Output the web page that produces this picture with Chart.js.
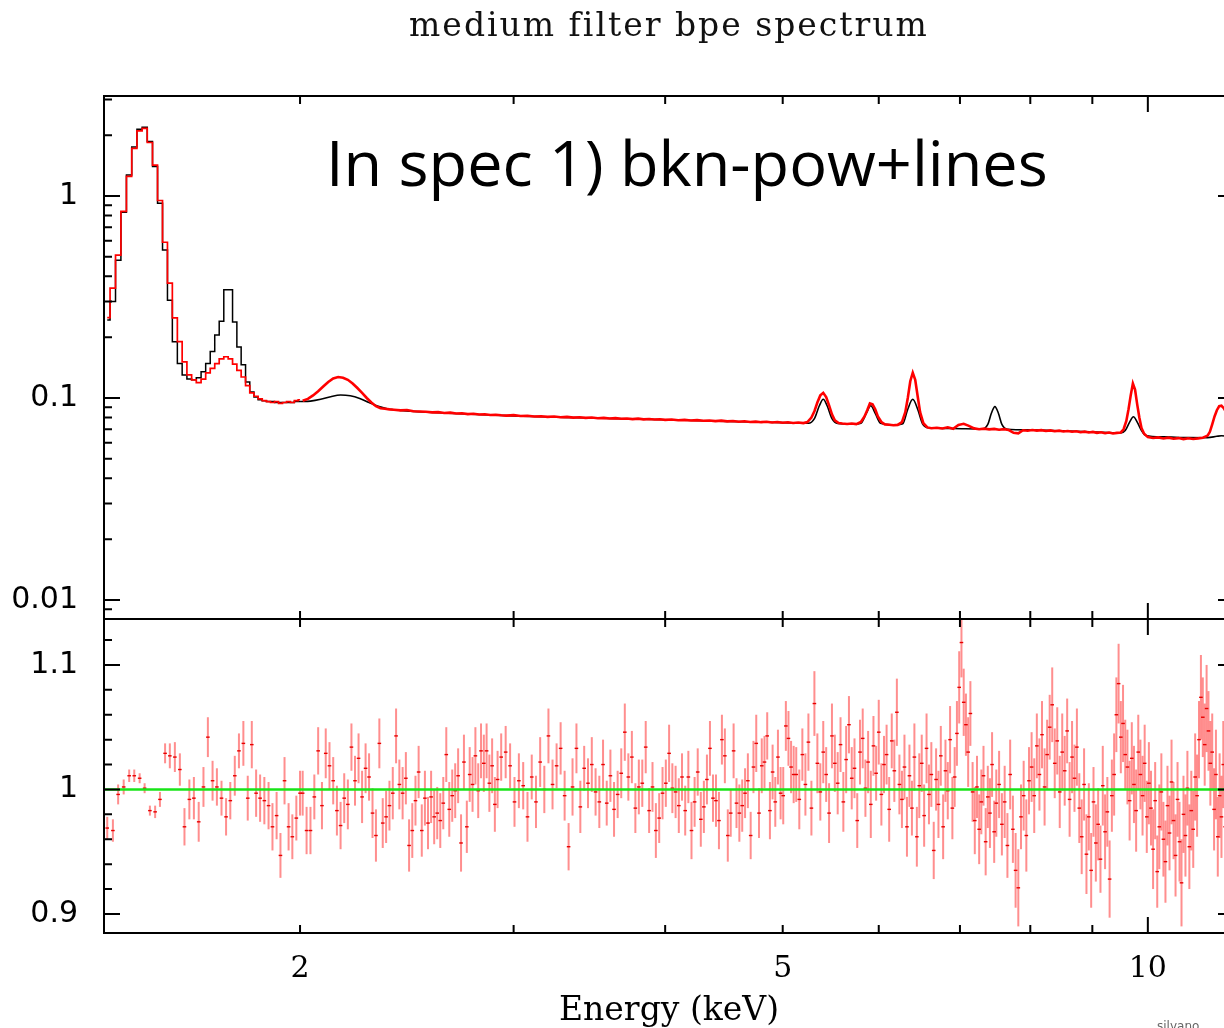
<!DOCTYPE html>
<html>
<head>
<meta charset="utf-8">
<title>medium filter bpe spectrum</title>
<script src="https://cdn.jsdelivr.net/npm/chart.js@4.4.1/dist/chart.umd.min.js"></script>
<style>
  html, body { margin: 0; padding: 0; background: #fff; }
  body { width: 1224px; height: 1028px; overflow: hidden; position: relative; }
  #topBox { position: absolute; left: 0; top: 0; }
  #botBox { position: absolute; left: 0; top: 600px; }
  .title { position: absolute; left: 104px; width: 1130px; top: 8px; text-align: center;
           font: 33px/33px "DejaVu Serif", serif; letter-spacing: 2px; color: #111; white-space: nowrap; }
  .note { position: absolute; left: 326px; top: 130px; font: 63px/63px "Open Sans", sans-serif;
          color: #000; white-space: nowrap; }
  .sig { position: absolute; left: 1157px; top: 1019px; font: 12px/14px "DejaVu Sans", sans-serif; color: #666; }
</style>
</head>
<body>
<canvas id="topBox" width="1250" height="640"></canvas>
<canvas id="botBox" width="1250" height="433"></canvas>
<div class="title">medium filter bpe spectrum</div>
<div class="note">In spec 1) bkn-pow+lines</div>
<div class="sig">silvano</div>
<script>
// axis ticks / labels
const xTickLabels = [2, 5, 10];
const xMajorTicks = [10];
const xMinorTicks = [2, 3, 4, 5, 6, 7, 8, 9];
const yTopLabels = [0.01, 0.1, 1];
const yTopMinor = [0.009, 0.02, 0.03, 0.04, 0.05, 0.06, 0.07, 0.08, 0.09, 0.2, 0.3, 0.4, 0.5, 0.6, 0.7, 0.8, 0.9, 2, 3];
const yBotLabels = [0.9, 1, 1.1];
const yBotMinor = [0.92, 0.94, 0.96, 0.98, 1.02, 1.04, 1.06, 1.08, 1.12];

// low energy channels (histogram part, keV)
const binE = [1.387, 1.402, 1.416, 1.431, 1.446, 1.460, 1.475, 1.489, 1.504, 1.519,
  1.533, 1.548, 1.562, 1.577, 1.592, 1.606, 1.621, 1.635, 1.650, 1.665,
  1.679, 1.694, 1.708, 1.723, 1.738, 1.752, 1.767, 1.781, 1.796, 1.811,
  1.825, 1.840, 1.854, 1.869, 1.884, 1.898, 1.913, 1.927, 1.942, 1.957,
  1.971, 1.986, 2.000];
const binModel = [0.243, 0.300, 0.480, 0.830, 1.270, 1.750, 2.140, 2.190, 1.860, 1.400,
  0.920, 0.540, 0.305, 0.190, 0.148, 0.130, 0.124, 0.123, 0.126, 0.135,
  0.148, 0.170, 0.205, 0.240, 0.343, 0.343, 0.238, 0.179, 0.146, 0.120,
  0.107, 0.101, 0.098, 0.097, 0.096, 0.096, 0.095, 0.095, 0.095, 0.095,
  0.095, 0.096, 0.096];
const binData = [0.250, 0.350, 0.510, 0.840, 1.250, 1.720, 2.100, 2.160, 1.840, 1.420,
  0.950, 0.590, 0.370, 0.249, 0.190, 0.151, 0.130, 0.123, 0.119, 0.124,
  0.133, 0.140, 0.148, 0.156, 0.160, 0.156, 0.147, 0.137, 0.127, 0.115,
  0.106, 0.102, 0.099, 0.097, 0.096, 0.095, 0.096, 0.094, 0.095, 0.096,
  0.095, 0.097, 0.098];

// model above 2 keV
const modelE = [2.00, 2.04, 2.08, 2.12, 2.16, 2.20, 2.24, 2.28, 2.32, 2.36, 2.42, 2.50, 2.65, 2.80,
  3.00, 3.30, 3.60, 4.00, 4.50, 5.00, 5.25, 5.31, 5.36, 5.40, 5.44, 5.49, 5.55, 5.72, 5.80,
  5.86, 5.91, 5.96, 6.02, 6.20, 6.28, 6.34, 6.40, 6.46, 6.52, 6.60, 6.90, 7.30, 7.38, 7.43,
  7.48, 7.53, 7.58, 7.66, 8.00, 8.50, 9.00, 9.50, 9.58, 9.66, 9.73, 9.80, 9.88, 9.96, 10.3,
  10.8, 11.2, 11.4, 11.5, 11.6, 11.8];
const modelV = [0.0960, 0.0965, 0.0985, 0.1015, 0.1034, 0.1025, 0.0995, 0.0950, 0.0910, 0.0885, 0.0868, 0.0856, 0.0840, 0.0828,
  0.0815, 0.0802, 0.0792, 0.0780, 0.0766, 0.0755, 0.0750, 0.0790, 0.0915, 0.0985, 0.0915, 0.0790, 0.0748, 0.0742, 0.0750,
  0.0840, 0.0915, 0.0840, 0.0750, 0.0736, 0.0745, 0.0880, 0.0985, 0.0880, 0.0745, 0.0712, 0.0706, 0.0702, 0.0740, 0.0840,
  0.0906, 0.0840, 0.0740, 0.0700, 0.0695, 0.0688, 0.0680, 0.0672, 0.0690, 0.0760, 0.0807, 0.0760, 0.0690, 0.0652, 0.0642,
  0.0637, 0.0636, 0.0646, 0.0650, 0.0648, 0.0642];

// data above 2 keV
const dataE = [2.01, 2.03, 2.05, 2.07, 2.09, 2.11, 2.13, 2.15, 2.17, 2.19, 2.21, 2.23, 2.25, 2.27, 2.29, 2.31, 2.33, 2.35, 2.37, 2.39,
  2.42, 2.45, 2.48, 2.51, 2.54, 2.57, 2.60, 2.63, 2.66, 2.69, 2.72, 2.75, 2.78, 2.81, 2.84, 2.87, 2.90, 2.93, 2.96,
  3.00, 3.04, 3.08, 3.12, 3.16, 3.20, 3.24, 3.28, 3.32, 3.36, 3.40, 3.44, 3.48, 3.52, 3.56, 3.60, 3.64, 3.68, 3.72, 3.76, 3.80, 3.84, 3.88, 3.92, 3.96, 4.00,
  4.05, 4.10, 4.15, 4.20, 4.25, 4.30, 4.35, 4.40, 4.45, 4.50, 4.55, 4.60, 4.65, 4.70, 4.75, 4.80, 4.85, 4.90, 4.95, 5.00, 5.05, 5.10, 5.15, 5.20,
  5.24, 5.28, 5.31, 5.34, 5.37, 5.40, 5.43, 5.46, 5.49, 5.52, 5.56, 5.60, 5.65, 5.70, 5.75, 5.80, 5.84, 5.87, 5.90, 5.93, 5.96, 5.99, 6.03, 6.07, 6.12, 6.17, 6.22,
  6.27, 6.31, 6.34, 6.37, 6.40, 6.43, 6.46, 6.49, 6.53, 6.58, 6.63,
  6.70, 6.77, 6.84, 6.91, 6.98, 7.05, 7.12, 7.19, 7.26, 7.33, 7.40, 7.47, 7.54, 7.61, 7.68, 7.75, 7.82, 7.89, 7.96, 8.03, 8.10,
  8.17, 8.24, 8.31, 8.38, 8.45, 8.52, 8.59, 8.66, 8.73, 8.80, 8.87, 8.94, 9.01, 9.08, 9.15, 9.22, 9.29, 9.36, 9.43, 9.50,
  9.55, 9.60, 9.64, 9.68, 9.72, 9.76, 9.80, 9.84, 9.88, 9.93,
  10.0, 10.1, 10.2, 10.3, 10.4, 10.5, 10.6, 10.7, 10.8, 10.9, 11.0, 11.1, 11.2, 11.25, 11.3, 11.35, 11.4, 11.45, 11.5, 11.55, 11.6, 11.7, 11.8];
const dataV = [0.097, 0.099, 0.103, 0.108, 0.114, 0.120, 0.125, 0.127, 0.126, 0.123, 0.118, 0.112, 0.106, 0.100, 0.095, 0.091, 0.089, 0.0885, 0.0878, 0.0875,
  0.0868, 0.0872, 0.0860, 0.0857, 0.0855, 0.0849, 0.0851, 0.0843, 0.0846, 0.0838, 0.0840, 0.0832, 0.0836, 0.0829, 0.0831, 0.0823, 0.0826, 0.0821, 0.0818,
  0.0822, 0.0814, 0.0817, 0.0810, 0.0812, 0.0806, 0.0809, 0.0803, 0.0806, 0.0799, 0.0803, 0.0797, 0.0800, 0.0794, 0.0797, 0.0791, 0.0795, 0.0789, 0.0792, 0.0786, 0.0790, 0.0784, 0.0787, 0.0782, 0.0785, 0.0779,
  0.0783, 0.0776, 0.0779, 0.0773, 0.0777, 0.0771, 0.0774, 0.0768, 0.0772, 0.0766, 0.0769, 0.0763, 0.0767, 0.0761, 0.0764, 0.0759, 0.0762, 0.0756, 0.0760, 0.0754, 0.0758, 0.0752, 0.0756, 0.0751,
  0.0760, 0.0800, 0.0860, 0.0950, 0.1030, 0.1060, 0.1010, 0.0920, 0.0830, 0.0775, 0.0752, 0.0748, 0.0744, 0.0748, 0.0742, 0.0760, 0.0810, 0.0870, 0.0940, 0.0930, 0.0880, 0.0810, 0.0760, 0.0740, 0.0737, 0.0733, 0.0736,
  0.0760, 0.0850, 0.1000, 0.1210, 0.1334, 0.1230, 0.1020, 0.0850, 0.0750, 0.0715, 0.0708,
  0.0712, 0.0706, 0.0716, 0.0704, 0.0735, 0.0745, 0.0728, 0.0707, 0.0700, 0.0705, 0.0699, 0.0703, 0.0696, 0.0701, 0.0694, 0.0672, 0.0668, 0.0692, 0.0688, 0.0694, 0.0689,
  0.0693, 0.0686, 0.0691, 0.0684, 0.0689, 0.0682, 0.0686, 0.0680, 0.0684, 0.0677, 0.0681, 0.0675, 0.0679, 0.0672, 0.0676, 0.0669, 0.0674, 0.0667, 0.0672, 0.0675,
  0.0700, 0.0770, 0.0880, 0.1030, 0.1180, 0.1100, 0.0930, 0.0800, 0.0710, 0.0665,
  0.0640, 0.0634, 0.0638, 0.0630, 0.0636, 0.0628, 0.0633, 0.0626, 0.0632, 0.0627, 0.0631, 0.0636, 0.0650, 0.0680, 0.0740, 0.0810, 0.0870, 0.0910, 0.0915, 0.0890, 0.0850, 0.0760, 0.0690];

// ratio panel
const resE = [...binE,
  2.010, 2.025, 2.040, 2.055, 2.070, 2.085, 2.100, 2.115, 2.130, 2.145,
  2.160, 2.175, 2.190, 2.205, 2.220, 2.235, 2.250, 2.265, 2.280, 2.295,
  2.310, 2.325, 2.340, 2.355, 2.370, 2.385, 2.400, 2.415, 2.430, 2.445,
  2.460, 2.475, 2.490, 2.505, 2.520, 2.535, 2.550, 2.565, 2.580, 2.595,
  2.610, 2.625, 2.640, 2.655, 2.670, 2.685, 2.700, 2.715, 2.730, 2.745,
  2.760, 2.775, 2.790, 2.805, 2.820, 2.835, 2.850, 2.865, 2.880, 2.895,
  2.910,
  2.930, 2.955, 2.980, 3.005, 3.030, 3.055, 3.080, 3.105, 3.130, 3.155,
  3.180, 3.205, 3.230, 3.255, 3.280, 3.305, 3.330, 3.355, 3.380, 3.405,
  3.430, 3.455, 3.480, 3.505, 3.530, 3.555, 3.580, 3.605, 3.630, 3.655,
  3.680, 3.705, 3.730, 3.755, 3.780, 3.805, 3.830, 3.855, 3.880, 3.905,
  3.930, 3.955, 3.980, 4.005, 4.030, 4.055, 4.080, 4.105, 4.130, 4.155,
  4.180, 4.205, 4.230, 4.255, 4.280, 4.305, 4.330, 4.355, 4.380, 4.405,
  4.430, 4.455, 4.480, 4.505, 4.530, 4.555, 4.580, 4.605, 4.630, 4.655,
  4.680, 4.705, 4.730, 4.755, 4.780, 4.805, 4.830, 4.855, 4.880, 4.905,
  4.930, 4.955, 4.980, 5.005, 5.030, 5.055, 5.080, 5.105,
  5.13, 5.16, 5.19, 5.22, 5.25, 5.28, 5.31, 5.34, 5.37, 5.40,
  5.43, 5.46, 5.49, 5.52, 5.55, 5.58, 5.61, 5.64, 5.67, 5.70,
  5.73, 5.76, 5.79, 5.82, 5.85, 5.88, 5.91, 5.94, 5.97, 6.00,
  6.03, 6.06, 6.09, 6.12, 6.15, 6.18, 6.21, 6.24, 6.27, 6.30,
  6.33, 6.36, 6.39, 6.42, 6.45, 6.48, 6.51, 6.54, 6.57, 6.60,
  6.63, 6.66, 6.69, 6.72, 6.75, 6.78, 6.81, 6.84, 6.87, 6.90,
  6.93, 6.96, 6.99, 7.02, 7.05, 7.08, 7.11, 7.14, 7.17, 7.20,
  7.23, 7.26, 7.29, 7.32, 7.35, 7.38, 7.41, 7.44, 7.47, 7.50,
  7.54, 7.58, 7.62, 7.66, 7.70, 7.74, 7.78, 7.82, 7.86, 7.90,
  7.94, 7.98, 8.02, 8.06, 8.10, 8.14, 8.18, 8.22, 8.26, 8.30,
  8.34, 8.38, 8.42, 8.46, 8.50, 8.54, 8.58, 8.62, 8.66, 8.70,
  8.74, 8.78, 8.82, 8.86, 8.90, 8.94, 8.98, 9.02, 9.06, 9.10,
  9.14, 9.18, 9.22, 9.26, 9.30, 9.34, 9.38, 9.42, 9.46, 9.50,
  9.54, 9.58, 9.62, 9.66, 9.70, 9.74, 9.78, 9.82, 9.86, 9.90,
  9.94, 9.98, 10.02, 10.06, 10.10, 10.14, 10.18, 10.22, 10.26, 10.30,
  10.34, 10.38, 10.42, 10.46, 10.50, 10.54, 10.58, 10.62, 10.66, 10.70,
  10.74, 10.78, 10.82, 10.86, 10.90, 10.94, 10.98, 11.02, 11.06, 11.10,
  11.14, 11.18, 11.22, 11.26, 11.30, 11.34, 11.38, 11.42, 11.46, 11.50,
  11.54, 11.58, 11.62];
const resRatio = [
  0.969, 0.967, 0.996, 1.002, 1.011, 1.011, 1.009, 1.001, 0.983, 0.982,
  0.992, 1.029, 1.027, 1.026, 1.016, 0.970, 0.992, 0.993, 0.974, 1.002,
  1.042, 1.007, 1.002, 0.993, 0.978, 0.991, 1.011, 1.031, 1.037, 0.993,
  1.036, 0.997, 0.993, 0.991, 0.987, 0.970, 0.979, 0.947, 1.007, 0.970,
  0.962, 0.977, 0.997,
  0.997, 0.967, 0.967, 0.994, 1.031, 0.987, 1.029, 1.019, 1.007, 0.983,
  0.971, 0.993, 0.988, 1.034, 1.007, 1.025, 0.994, 1.017, 1.010, 0.981,
  0.963, 1.037, 0.973, 0.978, 0.987, 0.997, 1.043, 1.004, 0.997, 1.009,
  0.955, 0.967, 0.991, 1.014, 0.967, 0.993, 0.973, 0.994, 0.978, 0.981,
  0.975, 0.989, 1.028, 0.984, 0.995, 0.999, 1.011, 0.957, 1.022, 0.970,
  1.012, 1.004, 1.027, 0.999, 1.031, 1.021, 1.031, 1.005, 1.019, 0.988,
  1.008,
  1.026, 1.030, 1.019, 0.990, 1.007, 1.003, 0.978, 1.010, 0.990, 1.022,
  1.000, 1.043, 1.004, 1.019, 1.033, 0.995, 0.954, 1.002, 1.033, 0.986,
  1.017, 1.005, 1.020, 0.998, 0.990, 1.020, 0.989, 1.011, 0.984, 0.996,
  1.013, 1.046, 1.010, 1.026, 0.985, 1.002, 1.005, 1.034, 0.983, 1.002,
  0.967, 0.977, 0.997, 1.005, 1.029, 1.001, 0.998, 0.987, 1.010, 0.983,
  1.010, 0.967, 0.990, 1.014, 0.976, 0.986, 1.008, 1.033, 0.993, 0.991,
  0.975, 1.040, 1.027, 0.963, 0.981, 1.031, 0.989, 0.981, 0.987, 0.997,
  1.007, 0.963, 1.018, 1.037, 0.981, 1.019, 1.022, 1.043, 0.983, 1.014,
  0.990, 1.026, 0.997, 0.995, 1.051, 1.041, 1.018, 1.012,
  1.012, 0.992, 1.028, 1.004, 1.038, 0.985, 1.069, 1.021, 0.998, 1.030,
  1.012, 0.981, 1.043, 1.021, 1.005, 1.036, 0.990, 1.024, 1.052, 1.009,
  1.017, 0.975, 1.030, 1.041, 1.001, 1.022, 0.988, 1.035, 1.013, 1.046,
  0.996, 1.020, 1.028, 0.984, 1.039, 1.015, 1.062, 1.004, 0.992, 1.018,
  0.970, 1.011, 0.985, 1.026, 0.962, 1.003, 1.021, 0.979, 1.033, 0.996,
  1.012, 0.951, 1.008, 0.988, 1.027, 0.970, 1.015, 0.999, 1.040, 0.985,
  1.010, 1.045, 1.082, 1.118, 1.070, 1.052, 1.030, 1.061, 0.998, 0.975,
  1.002, 0.968, 0.990, 1.011, 0.958, 0.994, 0.981, 1.020, 0.966, 0.989,
  1.004, 0.972, 0.990, 0.955, 1.012, 0.968, 0.935, 0.921, 0.978, 0.995,
  0.963, 1.007, 1.018, 0.995, 1.035, 1.012, 1.044, 1.002, 1.028, 1.050,
  1.068, 1.021, 1.039, 0.998, 1.030, 1.015, 1.047, 0.992, 1.026, 1.009,
  1.034, 0.985, 0.962, 1.004, 0.948, 0.978, 0.935, 0.990, 0.957, 0.972,
  0.944, 1.003, 0.966, 0.982, 0.928, 0.995, 1.012, 1.060, 1.085, 1.042,
  1.053, 1.028, 1.018, 0.991, 1.025, 1.004, 0.983, 1.030, 1.012, 0.995,
  1.021, 0.978, 1.005, 0.985, 0.952, 0.991, 0.934, 0.970, 0.998, 0.960,
  0.942, 0.987, 0.965, 1.006, 0.975, 0.947, 0.992, 0.958, 0.925, 0.980,
  0.963, 1.001, 0.954, 0.983, 0.968, 1.010, 0.995, 1.040, 1.074, 1.058,
  1.036, 1.065, 1.047, 1.021, 1.030, 0.984, 1.012, 0.962, 0.995, 0.978,
  1.020, 0.970, 1.003];
const resErr = [
  .009, .009, .008, .006, .005, .005, .004, .004, .004, .005,
  .006, .008, .010, .012, .013, .015, .016, .017, .016, .016,
  .016, .016, .015, .014, .015, .015, .016, .014, .018, .018,
  .019, .019, .019, .019, .019, .019, .019, .018, .019, .019,
  .018, .018, .018,
  .018, .019, .019, .018, .019, .019, .020, .019, .019, .020,
  .019, .020, .020, .019, .020, .020, .021, .020, .019, .020,
  .021, .020, .020, .021, .020, .021, .022, .020, .021, .021,
  .021, .022, .020, .021, .021, .022, .021, .021, .022, .021,
  .022, .021, .022, .022, .021, .022, .022, .023, .022, .021,
  .022, .022, .023, .022, .022, .023, .022, .023, .022, .022,
  .023,
  .019, .021, .018, .020, .022, .019, .020, .018, .021, .020,
  .019, .022, .020, .018, .021, .020, .019, .023, .020, .021,
  .018, .020, .022, .019, .021, .020, .018, .021, .022, .019,
  .020, .023, .019, .021, .020, .022, .019, .021, .018, .020,
  .022, .020, .021, .019, .023, .020, .021, .022, .019, .020,
  .021, .023, .020, .019, .022, .021, .020, .022, .019, .021,
  .023, .020, .022, .021, .019, .022, .020, .023, .021, .020,
  .022, .019, .021, .023, .020, .022, .021, .019, .023, .022,
  .020, .022, .021, .023, .020, .022, .021, .023,
  .022, .024, .021, .025, .023, .022, .026, .024, .023, .025,
  .022, .024, .026, .023, .025, .022, .024, .027, .023, .025,
  .024, .022, .026, .024, .023, .025, .027, .024, .022, .026,
  .025, .023, .024, .026, .022, .025, .027, .024, .023, .026,
  .024, .025, .022, .027, .024, .026, .023, .025, .028, .024,
  .026, .023, .025, .027, .024, .026, .025, .023, .027, .025,
  .024, .026, .029, .028, .027, .025, .028, .026, .024, .027,
  .025, .028, .026, .024, .027, .025, .028, .026, .025, .027,
  .027, .025, .029, .026, .028, .027, .030, .031, .026, .028,
  .029, .027, .028, .030, .026, .029, .027, .031, .028, .026,
  .030, .028, .027, .029, .031, .028, .026, .030, .029, .027,
  .031, .028, .030, .029, .032, .027, .030, .028, .031, .029,
  .027, .032, .030, .028, .031, .029, .033, .030, .032, .029,
  .031, .028, .030, .032, .029, .031, .033, .030, .028, .032,
  .031, .029, .033, .030, .032, .031, .029, .034, .031, .030,
  .033, .032, .030, .034, .031, .033, .030, .032, .035, .031,
  .033, .030, .034, .032, .031, .035, .033, .031, .034, .032,
  .033, .035, .032, .034, .031, .033, .036, .032, .034, .033,
  .035, .032, .034];
const unityE = [1.3, 12];
const unityRatio = [1, 1];

[[binE, binModel], [binE, binData], [modelE, modelV], [dataE, dataV], [resE, resRatio], [resE, resErr]]
  .forEach(([a, b], i) => { if (a.length !== b.length) console.error('length mismatch', i, a.length, b.length); });

// axis ranges (pixel layout of the original plot)
const xMin = 1.3785, xMax = 11.777;

const pts = (xs, ys) => xs.map((x, i) => ({ x: x, y: ys[i] }));

// PGPLOT-style frame with inward ticks
const frameTicks = {
  id: 'frameTicks',
  afterDraw(chart, args, opts) {
    const { ctx, chartArea: a } = chart;
    const xs = chart.scales.x, ys = chart.scales.y;
    ctx.save();
    ctx.strokeStyle = '#000';
    ctx.lineWidth = 2;
    ctx.beginPath();
    const xTick = (v, len) => {
      const p = xs.getPixelForValue(v);
      ctx.moveTo(p, a.bottom); ctx.lineTo(p, a.bottom - len);
      ctx.moveTo(p, a.top); ctx.lineTo(p, a.top + len);
    };
    const yTick = (v, len) => {
      const p = ys.getPixelForValue(v);
      ctx.moveTo(a.left, p); ctx.lineTo(a.left + len, p);
      ctx.moveTo(a.right, p); ctx.lineTo(a.right - len, p);
    };
    xMajorTicks.forEach(v => xTick(v, 16));
    xMinorTicks.forEach(v => xTick(v, 8));
    opts.yMajor.forEach(v => yTick(v, 16));
    opts.yMinor.forEach(v => yTick(v, 8));
    ctx.stroke();
    ctx.strokeRect(a.left, a.top, a.right - a.left, a.bottom - a.top);
    ctx.restore();
  }
};

const yLabelFont = { family: 'DejaVu Sans', size: 30 };
const xLabelFont = { family: 'DejaVu Serif', size: 30 };

// fixed axis box, no extra label padding so the plot frame stays where the original has it
const fixWidth = s => { s.width = 104; s.paddingTop = 0; s.paddingBottom = 0; };

// top: counts spectrum
new Chart(document.getElementById('topBox'), {
  type: 'line',
  data: {
    datasets: [
      { data: pts(binE, binData), borderColor: '#ff0000', borderWidth: 1.7, stepped: 'middle', pointRadius: 0 },
      { data: pts(dataE, dataV), borderColor: '#ff0000', borderWidth: 2.6, pointRadius: 0 },
      { data: pts(binE, binModel), borderColor: '#000', borderWidth: 1.5, stepped: 'middle', pointRadius: 0 },
      { data: pts(modelE, modelV), borderColor: '#000', borderWidth: 1.6, pointRadius: 0, cubicInterpolationMode: 'monotone' }
    ]
  },
  options: {
    responsive: false, animation: false, events: [], devicePixelRatio: 1,
    layout: { padding: { top: 96, right: 16, bottom: 21, left: 0 } },
    plugins: {
      legend: { display: false }, tooltip: { enabled: false },
      frameTicks: { yMajor: yTopLabels, yMinor: yTopMinor }
    },
    scales: {
      x: { type: 'logarithmic', min: xMin, max: xMax, display: false },
      y: {
        type: 'logarithmic', min: 0.00805, max: 3.126,
        grid: { display: false, drawTicks: false }, border: { display: false },
        afterFit: fixWidth,
        afterBuildTicks: s => { s.ticks = yTopLabels.map(v => ({ value: v })); },
        ticks: { padding: 26, color: '#000', font: yLabelFont, callback: v => String(v) }
      }
    }
  },
  plugins: [frameTicks]
});

// bottom: data / model ratio with error bars
const barPts = [];
resE.forEach((e, i) => {
  barPts.push({ x: e, y: resRatio[i] - resErr[i] }, { x: e, y: resRatio[i] + resErr[i] }, { x: e, y: null });
});

new Chart(document.getElementById('botBox'), {
  type: 'line',
  data: {
    datasets: [
      { data: pts(unityE, unityRatio), borderColor: '#18e418', borderWidth: 2.5, pointRadius: 0 },
      { data: pts(resE, resRatio), showLine: false, pointStyle: 'line', pointRadius: 1.8,
        pointBorderColor: '#e80000', pointBorderWidth: 1.4 },
      { data: barPts, borderColor: 'rgba(255,30,30,0.5)', borderWidth: 2, pointRadius: 0, spanGaps: false,
        segment: { borderColor: 'rgba(255,30,30,0.5)' } }
    ]
  },
  options: {
    responsive: false, animation: false, events: [], devicePixelRatio: 1,
    layout: { padding: { top: 19, right: 16, bottom: 0, left: 0 } },
    plugins: {
      legend: { display: false }, tooltip: { enabled: false },
      frameTicks: { yMajor: yBotLabels, yMinor: yBotMinor }
    },
    scales: {
      x: {
        type: 'logarithmic', min: xMin, max: xMax,
        grid: { display: false, drawTicks: false }, border: { display: false },
        afterFit: s => { s.height = 100; s.paddingLeft = 0; s.paddingRight = 0; },
        afterBuildTicks: s => { s.ticks = xTickLabels.map(v => ({ value: v })); },
        ticks: { padding: 18, autoSkip: false, maxRotation: 0, color: '#000', font: xLabelFont, callback: v => String(v) },
        title: { display: true, text: 'Energy (keV)', color: '#000', font: { family: 'DejaVu Serif', size: 33 }, padding: { top: 0, bottom: 2 } }
      },
      y: {
        type: 'linear', min: 0.8847, max: 1.1369,
        grid: { display: false, drawTicks: false }, border: { display: false },
        afterFit: fixWidth,
        afterBuildTicks: s => { s.ticks = yBotLabels.map(v => ({ value: v })); },
        ticks: { padding: 26, color: '#000', font: yLabelFont, callback: v => String(v) }
      }
    }
  },
  plugins: [frameTicks]
});
</script>
</body>
</html>
